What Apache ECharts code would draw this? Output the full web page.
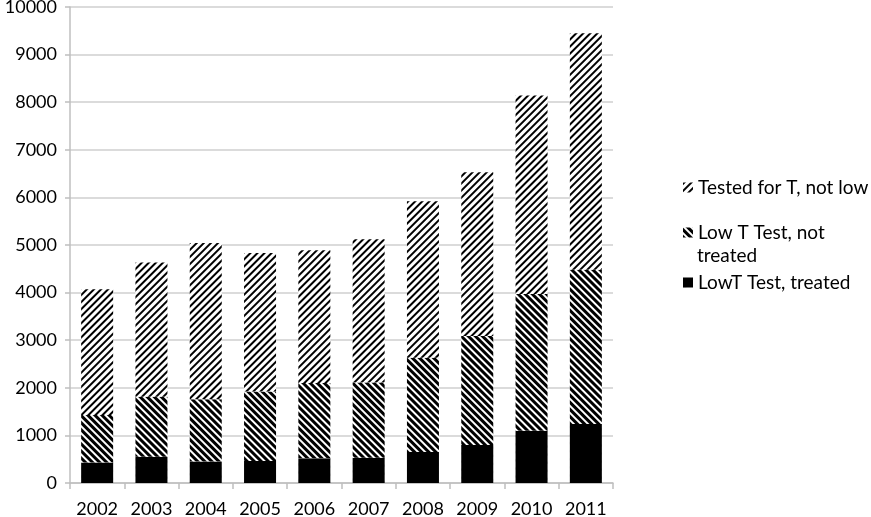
<!DOCTYPE html>
<html>
<head>
<meta charset="utf-8">
<script src="https://cdn.jsdelivr.net/npm/echarts@6/dist/echarts.min.js"></script>
<style>
  html, body { margin: 0; padding: 0; background: #fff; }
  #chart { width: 871px; height: 517px; }
</style>
</head>
<body>
<div id="chart"></div>
<script>
// years on the x axis
const years = ['2002', '2003', '2004', '2005', '2006', '2007', '2008', '2009', '2010', '2011'];
// stacked segments, bottom to top
const treated = [430, 550, 450, 460, 520, 530, 650, 800, 1100, 1240];
const notTreated = [1000, 1260, 1310, 1460, 1580, 1580, 1980, 2290, 2870, 3240];
const notLow = [2640, 2820, 3280, 2910, 2790, 3010, 3290, 3440, 4170, 4970];
const yTicks = { min: 0, max: 10000, interval: 1000 };

const FONT = 'Lato';

let chartDom = document.getElementById('chart');
let myChart = echarts.init(chartDom);

// "\\\" stripes, thick
const stripeBack = {
  symbol: 'rect', symbolSize: 1, color: '#000',
  dashArrayX: [1, 0], dashArrayY: [2.5, 2], rotation: Math.PI / 4
};
// "///" stripes, thin
const stripeFwd = {
  symbol: 'rect', symbolSize: 1, color: '#000',
  dashArrayX: [1, 0], dashArrayY: [1.2, 2.6], rotation: -Math.PI / 4
};

const legendText = { fontFamily: FONT, fontSize: 19, color: '#000' };

let option = {
  animation: false,
  aria: { enabled: true, decal: { show: true } },
  grid: { left: 70, right: 258, top: 7, bottom: 34, outerBoundsMode: 'none' },
  legend: [
    {
      data: ['Tested for T, not low'],
      left: 678, top: 173, icon: 'rect',
      itemWidth: 10, itemHeight: 10,
      textStyle: legendText
    },
    {
      data: ['Low T Test, not treated'],
      left: 678, top: 218, icon: 'rect',
      itemWidth: 10, itemHeight: 10,
      formatter: () => 'Low T Test, not',
      textStyle: legendText
    },
    {
      data: ['LowT Test, treated'],
      left: 678, top: 268, icon: 'rect',
      itemWidth: 10, itemHeight: 10,
      textStyle: legendText
    }
  ],
  graphic: [
    {
      type: 'text', left: 697, top: 246,
      style: { text: 'treated', fontFamily: FONT, fontSize: 19, fill: '#000' }
    }
  ],
  xAxis: {
    type: 'category',
    data: years,
    axisLine: { lineStyle: { color: '#bfbfbf', width: 1.5 } },
    axisTick: { show: true, length: 6, lineStyle: { color: '#bfbfbf', width: 1.5 } },
    axisLabel: { fontFamily: FONT, fontSize: 18, color: '#000', margin: 17, interval: 0 }
  },
  yAxis: {
    type: 'value',
    min: yTicks.min, max: yTicks.max, interval: yTicks.interval,
    axisLine: { show: true, lineStyle: { color: '#bfbfbf', width: 1.5 } },
    axisTick: { show: true, length: 5, lineStyle: { color: '#bfbfbf', width: 1.5 } },
    splitLine: { lineStyle: { color: '#cfcfcf', width: 1.5 } },
    axisLabel: { fontFamily: FONT, fontSize: 18, color: '#000', margin: 13, formatter: v => String(v) }
  },
  series: [
    {
      name: 'LowT Test, treated',
      type: 'bar', stack: 'total', barWidth: 32,
      itemStyle: { color: '#000' },
      data: treated
    },
    {
      name: 'Low T Test, not treated',
      type: 'bar', stack: 'total', barWidth: 32,
      itemStyle: { color: '#fff', decal: stripeBack },
      data: notTreated
    },
    {
      name: 'Tested for T, not low',
      type: 'bar', stack: 'total', barWidth: 32,
      itemStyle: { color: '#fff', decal: stripeFwd },
      data: notLow
    }
  ]
};
myChart.setOption(option);
</script>
</body>
</html>
